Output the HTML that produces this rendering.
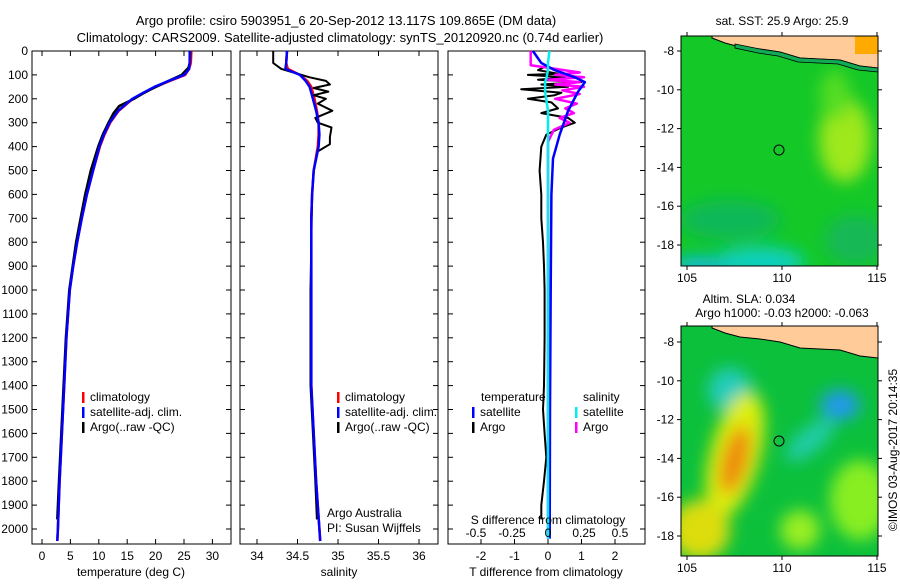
<!DOCTYPE html>
<html><head><meta charset="utf-8"><style>
body{margin:0;background:#fff;width:900px;height:580px;overflow:hidden}
svg text{font-family:"Liberation Sans",sans-serif;font-size:12px;fill:#000}
</style></head><body>
<svg id="c" width="900" height="580">
<defs>
<filter id="bl" x="-50%" y="-50%" width="200%" height="200%"><feGaussianBlur stdDeviation="8"/></filter>
<clipPath id="m1"><rect x="681" y="36" width="197" height="230"/></clipPath>
<clipPath id="m2"><rect x="681" y="326" width="197" height="230"/></clipPath>
</defs>
<text x="346" y="25" text-anchor="middle" style="font-size:13px">Argo profile: csiro 5903951_6 20-Sep-2012 13.117S 109.865E (DM data)</text>
<text x="340" y="42" text-anchor="middle" style="font-size:13px">Climatology: CARS2009. Satellite-adjusted climatology: synTS_20120920.nc (0.74d earlier)</text>
<g id="p1"></g>
<g id="p2"></g>
<g id="p3"></g>
<g id="yax"></g>
<g clip-path="url(#m1)">
<rect x="681" y="36" width="197" height="230" fill="#14c828"/>
<g filter="url(#bl)">
<ellipse cx="845" cy="140" rx="26" ry="42" fill="#9ee81a"/>
<ellipse cx="835" cy="95" rx="15" ry="25" fill="#55dd22"/>
<ellipse cx="760" cy="262" rx="45" ry="15" fill="#11d0c0"/>
<ellipse cx="700" cy="265" rx="30" ry="8" fill="#11bbee"/>
<ellipse cx="730" cy="220" rx="50" ry="20" fill="#10b858"/>
<ellipse cx="855" cy="240" rx="30" ry="25" fill="#12b856"/>
</g>
<path d="M712,36 L878,36 L878,68 L860,66 L840,60 L800,58 L780,52 L760,49 L740,47 L725,43 L712,38 Z" fill="#ffcc99" stroke="#000" stroke-width="1"/>
<path d="M735,44 L760,49 L780,52 L800,58 L840,60 L860,66 L878,68 L878,72 L858,70 L838,64 L798,62 L778,56 L758,53 L735,48Z" fill="#11aa55" stroke="#000" stroke-width="0.8"/>
<rect x="855" y="36" width="23" height="18" fill="#ffaa00"/>
<circle cx="779" cy="150" r="5" fill="none" stroke="#000"/>
</g>
<rect x="681" y="36" width="197" height="230" fill="none" stroke="#000"/>
<g clip-path="url(#m2)">
<rect x="681" y="326" width="197" height="230" fill="#0cc03c"/>
<g filter="url(#bl)">
<ellipse cx="730" cy="390" rx="22" ry="22" fill="#22ccbb"/>
<ellipse cx="735" cy="455" rx="25" ry="65" fill="#ddee11" transform="rotate(15 735 455)"/>
<ellipse cx="735" cy="460" rx="13" ry="35" fill="#ee8811" transform="rotate(15 735 460)"/>
<ellipse cx="840" cy="405" rx="20" ry="15" fill="#2299ee"/>
<ellipse cx="810" cy="440" rx="30" ry="12" fill="#22ccaa" transform="rotate(-40 810 440)"/>
<ellipse cx="700" cy="530" rx="30" ry="30" fill="#dddd11"/>
<ellipse cx="860" cy="500" rx="30" ry="40" fill="#88ee22"/>
<ellipse cx="800" cy="530" rx="20" ry="20" fill="#99ee22"/>
</g>
<path d="M712,326 L878,326 L878,358 L860,356 L840,350 L800,348 L780,342 L760,339 L740,337 L725,333 L712,328 Z" fill="#ffcc99" stroke="#000"/>
<circle cx="779" cy="441" r="5" fill="none" stroke="#000"/>
</g>
<rect x="681" y="326" width="197" height="230" fill="none" stroke="#000"/>
<g id="maxes"></g>
<text x="782" y="25" text-anchor="middle">sat. SST: 25.9 Argo: 25.9</text>
<text x="749" y="303" text-anchor="middle">Altim. SLA: 0.034</text>
<text x="782" y="317" text-anchor="middle">Argo h1000: -0.03 h2000: -0.063</text>
<text transform="translate(897,450) rotate(-90)" text-anchor="middle">©IMOS 03-Aug-2017 20:14:35</text>
</svg>
<script>
const depthC=[0,50,75,100,125,150,175,200,250,300,350,400,500,600,700,800,900,1000,1200,1400,1600,1800,2000,2050];
const tempClim=[26.3,26.2,25.9,25.2,22.5,20,18,16,13.5,12,11,10.2,9,7.9,7,6.2,5.5,4.9,4.3,3.9,3.5,3.1,2.8,2.7];
const tempSat=[26.0,26.0,25.9,25.0,22.3,19.8,17.8,15.9,13.4,11.9,10.9,10.1,9,7.9,7,6.2,5.5,4.9,4.3,3.9,3.5,3.1,2.8,2.7];
const depthA=[0,50,70,100,130,160,180,200,230,260,300,350,400,500,600,700,800,900,1000,1200,1400,1600,1800,1960];
const tempArgo=[26.1,26.0,25.8,24.6,21.8,19.2,17.6,16.2,13.6,12.6,11.7,10.7,9.9,8.6,7.6,6.8,6.0,5.4,4.8,4.2,3.8,3.4,3.0,2.7];
const salClim=[34.37,34.36,34.38,34.53,34.62,34.67,34.69,34.71,34.74,34.76,34.76,34.75,34.7,34.68,34.67,34.67,34.67,34.67,34.67,34.67,34.7,34.73,34.77,34.78];
const salSat=[34.37,34.36,34.35,34.53,34.6,34.65,34.67,34.69,34.73,34.76,34.77,34.76,34.7,34.68,34.67,34.67,34.67,34.67,34.67,34.67,34.7,34.73,34.77,34.78];
const depthSA=[0,50,75,90,110,125,140,155,170,185,200,220,250,280,300,320,360,390,420,500,600,800,1000,1200,1400,1600,1800,1960];
const salArgo=[34.2,34.2,34.3,34.45,34.65,34.85,34.9,34.7,34.88,34.7,34.85,34.75,34.93,34.72,34.75,34.92,34.9,34.9,34.75,34.7,34.68,34.67,34.66,34.66,34.66,34.69,34.72,34.74];
const depthD=[0,50,80,110,130,170,250,350,450,600,1000,1500,2040];
const tdiffSat=[-0.45,-0.2,0.2,0.8,1.1,0.9,0.6,0.35,0.15,0.1,0.08,0.06,0.05];
const sdiffSat=[0.01,0.0,0.0,-0.01,-0.02,-0.02,0.0,0.0,0.0,0.0,0.0,0.0,0.0];
const depthTD=[60,80,95,100,110,120,130,140,150,160,175,185,200,215,240,260,280,300,320,350,400,500,600,700,800,900,1000,1200,1400,1500,1600,1700,1800,1900,1960];
const tdiffArgo=[0,-0.3,0.3,-0.6,0.5,-0.3,1.0,-0.2,0.6,-0.8,0.4,0.2,-0.6,0.1,0.3,-0.2,0.6,0.8,0.4,-0.05,-0.2,-0.25,-0.2,-0.2,-0.15,-0.12,-0.1,-0.1,-0.12,-0.15,-0.1,-0.05,-0.12,-0.2,-0.2];
const depthSD=[0,60,70,90,100,110,120,130,140,150,165,180,200,220,240,260,280,300,330,380,2040];
const sdiffArgo=[-0.12,-0.12,0,0.22,0.05,0.25,0,0.22,0.05,0.25,0.1,0.22,0.05,0.2,0.12,0.18,0.08,0.15,0.04,0,0];
const depthTicks=[0,100,200,300,400,500,600,700,800,900,1000,1100,1200,1300,1400,1500,1600,1700,1800,1900,2000];
const tempTicks=[0,5,10,15,20,25,30];
const salTicks=[34,34.5,35,35.5,36];
const tdTicks=[-2,-1,0,1,2];
const sdTicks=[-0.5,-0.25,0,0.25,0.5];
const latTicks=[-8,-10,-12,-14,-16,-18];
const lonTicks=[105,110,115];

const NS='http://www.w3.org/2000/svg';
const yD=d=>51+d*0.239;
const xT=t=>42+t*5.68;
const xS=s=>257+(s-34)*81;
const xTD=t=>548+t*33.5;
const xSD=s=>548+s*144;
function el(p,tag,a,txt){const e=document.createElementNS(NS,tag);for(const k in a)e.setAttribute(k,a[k]);if(txt!==undefined)e.textContent=txt;p.appendChild(e);return e;}
function line(p,xs,ds,fx,col,w,name){
  const pts=xs.map((v,i)=>fx(v).toFixed(1)+','+yD(ds[i]).toFixed(1)).join(' ');
  const e=el(p,'polyline',{points:pts,fill:'none',stroke:col,'stroke-width':w,'stroke-linejoin':'round'});
  
  
}
function frame(p,x0,x1,ticks,fx,labels,bottomTicksOnly){
  el(p,'rect',{x:x0,y:51,width:x1-x0,height:493,fill:'none',stroke:'#000'});
  depthTicks.forEach(d=>{el(p,'line',{x1:x0,x2:x0+5,y1:yD(d),y2:yD(d),stroke:'#000'});el(p,'line',{x1:x1,x2:x1-5,y1:yD(d),y2:yD(d),stroke:'#000'});});
  ticks.forEach(t=>{const x=fx(t);el(p,'line',{x1:x,x2:x,y1:544,y2:539,stroke:'#000'});if(!bottomTicksOnly)el(p,'line',{x1:x,x2:x,y1:51,y2:56,stroke:'#000'});
    const tx=el(p,'text',{x:x,y:560,'text-anchor':'middle'},String(t));
    
    });
}
const p1=document.getElementById('p1'),p2=document.getElementById('p2'),p3=document.getElementById('p3');
frame(p1,32,231,tempTicks,xT);
line(p1,tempClim,depthC,xT,'#f00',2.5,'temp-climatology-line');
line(p1,tempArgo,depthA,xT,'#000',2.5,'temp-argo-line');
line(p1,tempSat,depthC,xT,'#00f',2.5,'temp-satellite-line');
el(p1,'text',{x:131,y:576,'text-anchor':'middle'},'temperature (deg C)');
frame(p2,240,438,salTicks,xS);
line(p2,salClim,depthC,xS,'#f00',2.5,'sal-climatology-line');
line(p2,salArgo,depthSA,xS,'#000',2,'sal-argo-line');
line(p2,salSat,depthC,xS,'#00f',2.5,'sal-satellite-line');
el(p2,'text',{x:339,y:576,'text-anchor':'middle'},'salinity');
el(p2,'text',{x:327,y:517},'Argo Australia');
el(p2,'text',{x:327,y:532},'PI: Susan Wijffels');
frame(p3,448,645,tdTicks,xTD,null,true);
line(p3,tdiffArgo,depthTD,xTD,'#000',2,'tdiff-argo-line');
line(p3,sdiffArgo,depthSD,xSD,'#f0f',2.5,'sdiff-argo-line');
line(p3,tdiffSat,depthD,xTD,'#00f',2.5,'tdiff-satellite-line');
line(p3,sdiffSat,depthD,xSD,'#0ee',2.5,'sdiff-satellite-line');
sdTicks.forEach(s=>{el(p3,'text',{x:xSD(s),y:537,'text-anchor':'middle'},String(s));});
el(p3,'text',{x:548,y:524,'text-anchor':'middle'},'S difference from climatology');
el(p3,'text',{x:546,y:576,'text-anchor':'middle'},'T difference from climatology');
function leg(p,x,y,col,txt){el(p,'rect',{x:x,y:y-9,width:2.5,height:11,fill:col});el(p,'text',{x:x+8,y:y},txt);}
[[p1,82],[p2,337]].forEach(([p,x])=>{leg(p,x,401,'#f00','climatology');leg(p,x,416,'#00f','satellite-adj. clim.');leg(p,x,431,'#000','Argo(..raw -QC)');});
el(p3,'text',{x:481,y:401},'temperature');el(p3,'text',{x:583,y:401},'salinity');
leg(p3,472,416,'#00f','satellite');leg(p3,472,431,'#000','Argo');
leg(p3,575,416,'#0ee','satellite');leg(p3,575,431,'#f0f','Argo');
const yax=document.getElementById('yax');
depthTicks.forEach(d=>{el(yax,'text',{x:28,y:yD(d)+4,'text-anchor':'end'},String(d));});
const ma=document.getElementById('maxes');
[[51,36,266],[342,326,556]].forEach(([y8,top,bot])=>{
  latTicks.forEach(l=>{const y=y8+(-8-l)*19.4;
    el(ma,'line',{x1:681,x2:677,y1:y,y2:y,stroke:'#000'});el(ma,'line',{x1:878,x2:882,y1:y,y2:y,stroke:'#000'});
    el(ma,'text',{x:674,y:y+4,'text-anchor':'end'},String(l));});
  lonTicks.forEach(l=>{const x=687+(l-105)*19;
    el(ma,'line',{x1:x,x2:x,y1:top,y2:top-4,stroke:'#000'});el(ma,'line',{x1:x,x2:x,y1:bot,y2:bot+4,stroke:'#000'});
    el(ma,'text',{x:x,y:bot+16,'text-anchor':'middle'},String(l));});
});
</script>
</body></html>
